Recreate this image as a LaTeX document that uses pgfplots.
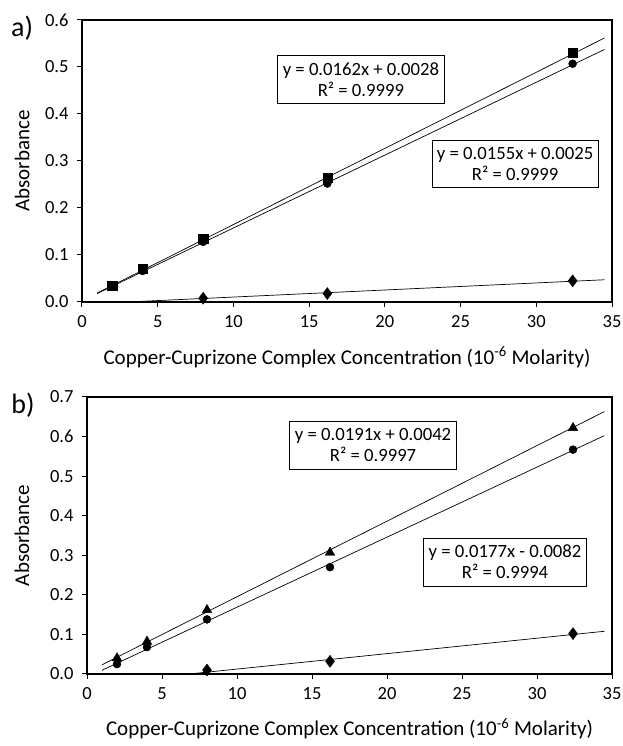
\documentclass[border=0pt]{standalone}
\usepackage{fontspec}
\setmainfont{Carlito}
\usepackage{pgfplots}
\pgfplotsset{compat=1.18}
\begin{document}
\begin{tikzpicture}
\pgfplotsset{
  every axis/.append style={
    scale only axis,
    xmin=0, xmax=35, xtick={0,5,...,35},
    tick align=outside, xtick pos=left, ytick pos=left,
    axis line style={line width=1.2pt},
    major tick style={line width=1pt, black},
    major tick length=5pt,
    tick label style={font=\fontsize{18.5}{21}\selectfont},
    xticklabel style={yshift=-5pt},
    label style={font=\fontsize{21}{25}\selectfont},
    /pgf/number format/assume math mode=true,
    yticklabel style={xshift=-5pt, /pgf/number format/.cd, fixed, fixed zerofill, precision=1},
    xlabel={Copper-Cuprizone Complex Concentration (10\textsuperscript{-6} Molarity)},
    ylabel={Absorbance},
    clip=false,
  },
}
\tikzset{
  trend/.style={black, line width=0.7pt},
  eqbox/.style={draw=black, line width=0.8pt, fill=white, align=center, font=\fontsize{18.7}{21}\selectfont, inner xsep=5pt, inner ysep=7pt},
}
\path[use as bounding box] (0pt,0pt) rectangle (623pt,746pt);
% Panel a
\begin{axis}[at={(82pt,444pt)}, anchor=south west, width=530pt, height=282pt,
  ymin=0, ymax=0.6, ytick={0,0.1,...,0.6},
  xlabel style={at={(axis description cs:0.5,-0.195)}, anchor=center},
  ylabel style={at={(axis description cs:-0.113,0.5)}, anchor=center},
]
\addplot[trend, no marks] coordinates {(1,0.0190) (34.5,0.5617)};
\addplot[trend, no marks] coordinates {(1,0.0180) (34.5,0.5373)};
\addplot[trend, no marks] coordinates {(3,0) (34.5,0.0473)};
\addplot[only marks, mark=square*, mark size=4.6pt, black] coordinates {(2,0.035) (4,0.070) (8,0.134) (16.2,0.265) (32.4,0.530)};
\addplot[only marks, mark=*, mark size=4pt, black] coordinates {(2,0.032) (4,0.066) (8,0.128) (16.2,0.252) (32.4,0.507)};
\addplot[only marks, mark=diamond*, mark size=6pt, black] coordinates {(8,0.008) (16.2,0.018) (32.4,0.045)};
\node[eqbox] at (axis cs:18.42,0.474) {y = 0.0162x + 0.0028\\R² = 0.9999};
\node[eqbox] at (axis cs:28.6,0.294) {y = 0.0155x + 0.0025\\R² = 0.9999};
\node[font=\fontsize{28}{32}\selectfont] at (axis description cs:-0.113,0.97) {a)};
\end{axis}
% Panel b
\begin{axis}[at={(87pt,72pt)}, anchor=south west, width=525pt, height=277pt,
  ymin=0, ymax=0.7, ytick={0,0.1,...,0.7},
  xlabel style={at={(axis description cs:0.5,-0.198)}, anchor=center},
  ylabel style={at={(axis description cs:-0.124,0.5)}, anchor=center},
]
\addplot[trend, no marks] coordinates {(1,0.0233) (34.5,0.6632)};
\addplot[trend, no marks] coordinates {(1,0.0095) (34.5,0.6025)};
\addplot[trend, no marks] coordinates {(6.8,0) (34.5,0.108)};
\addplot[only marks, mark=triangle*, mark size=5.5pt, black] coordinates {(2,0.040) (4,0.082) (8,0.162) (16.2,0.307) (32.4,0.622)};
\addplot[only marks, mark=*, mark size=4pt, black] coordinates {(2,0.025) (4,0.068) (8,0.138) (16.2,0.270) (32.4,0.567)};
\addplot[only marks, mark=diamond*, mark size=6pt, black] coordinates {(8,0.010) (16.2,0.032) (32.4,0.102)};
\node[eqbox] at (axis cs:19.07,0.578) {y = 0.0191x + 0.0042\\R² = 0.9997};
\node[eqbox] at (axis cs:27.87,0.283) {y = 0.0177x - 0.0082\\R² = 0.9994};
\node[font=\fontsize{28}{32}\selectfont] at (axis description cs:-0.122,0.971) {b)};
\end{axis}
\end{tikzpicture}
\end{document}
